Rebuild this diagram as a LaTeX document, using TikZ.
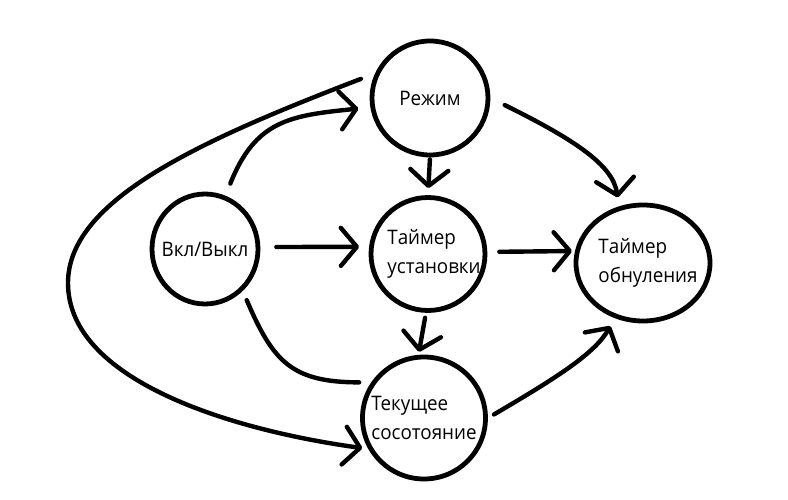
\documentclass[tikz,border=0pt]{standalone}
\usepackage{fontspec}
\setmainfont[FakeStretch=0.94]{Open Sans}
\usetikzlibrary{arrows.meta,shapes.geometric}
\begin{document}
\begin{tikzpicture}[x=1pt,y=-1pt,
  state/.style={draw,ellipse,line width=4.8pt,inner sep=0pt},
  txt/.style={align=left,inner sep=0pt,font=\fontsize{20}{29}\selectfont},
  conn/.style={line width=4.4pt,line cap=round,line join=round},
  arr/.style={conn,-{Straight Barb[length=16pt,width=38pt,round]}}]
\useasboundingbox (0,0) rectangle (788,500);
\node[state,minimum width=116pt,minimum height=114pt,label={[txt]center:Режим}] (rezhim) at (430,98) {};
\node[state,minimum width=106pt,minimum height=110pt,label={[txt]center:Вкл/Выкл}] (vkl) at (205,249) {};
\node[state,minimum width=114pt,minimum height=113pt,label={[txt,xshift=6pt]center:Таймер\\установки}] (tust) at (428,254) {};
\node[state,minimum width=134pt,minimum height=116pt,label={[txt,xshift=5pt]center:Таймер\\обнуления}] (tobn) at (643,263) {};
\node[state,minimum width=123pt,minimum height=122pt,label={[txt]center:Текущее\\сосотояние}] (tek) at (424,418) {};
\coordinate (loopL) at (68,283);
\draw[arr,shorten <=13pt,shorten >=12pt] (vkl.69) .. controls +(30,-75) and +(-81,8) .. (rezhim.189);
\draw[arr,shorten <=2pt,shorten >=7pt] (rezhim.south) -- (tust.north);
\draw[arr,shorten <=16pt,shorten >=9pt] (rezhim.east) .. controls +(85,42) and +(-6,-41) .. (tobn.113);
\draw[arr,shorten <=16pt,shorten >=10pt] (vkl.2) -- (tust.173);
\draw[arr,shorten <=12pt,shorten >=3pt] (tust.2) -- (tobn.170);
\draw[arr,shorten <=5pt,shorten >=3pt] (tust.268) -- (tek.95);
\draw[conn,shorten <=10pt,shorten >=12pt] (vkl.-48) .. controls +(30,70) and +(-80,0) .. (tek.146);
\draw[arr,shorten <=7pt,shorten >=9pt] (tek.east) .. controls +(70,-41) and +(-20,35) .. (tobn.243);
\draw[arr,shorten <=15pt,shorten >=6pt] (rezhim.156) .. controls +(-175,67) and +(0,-83) .. (loopL) .. controls +(0,97) and +(-138,-19) .. (tek.209);
\end{tikzpicture}
\end{document}
